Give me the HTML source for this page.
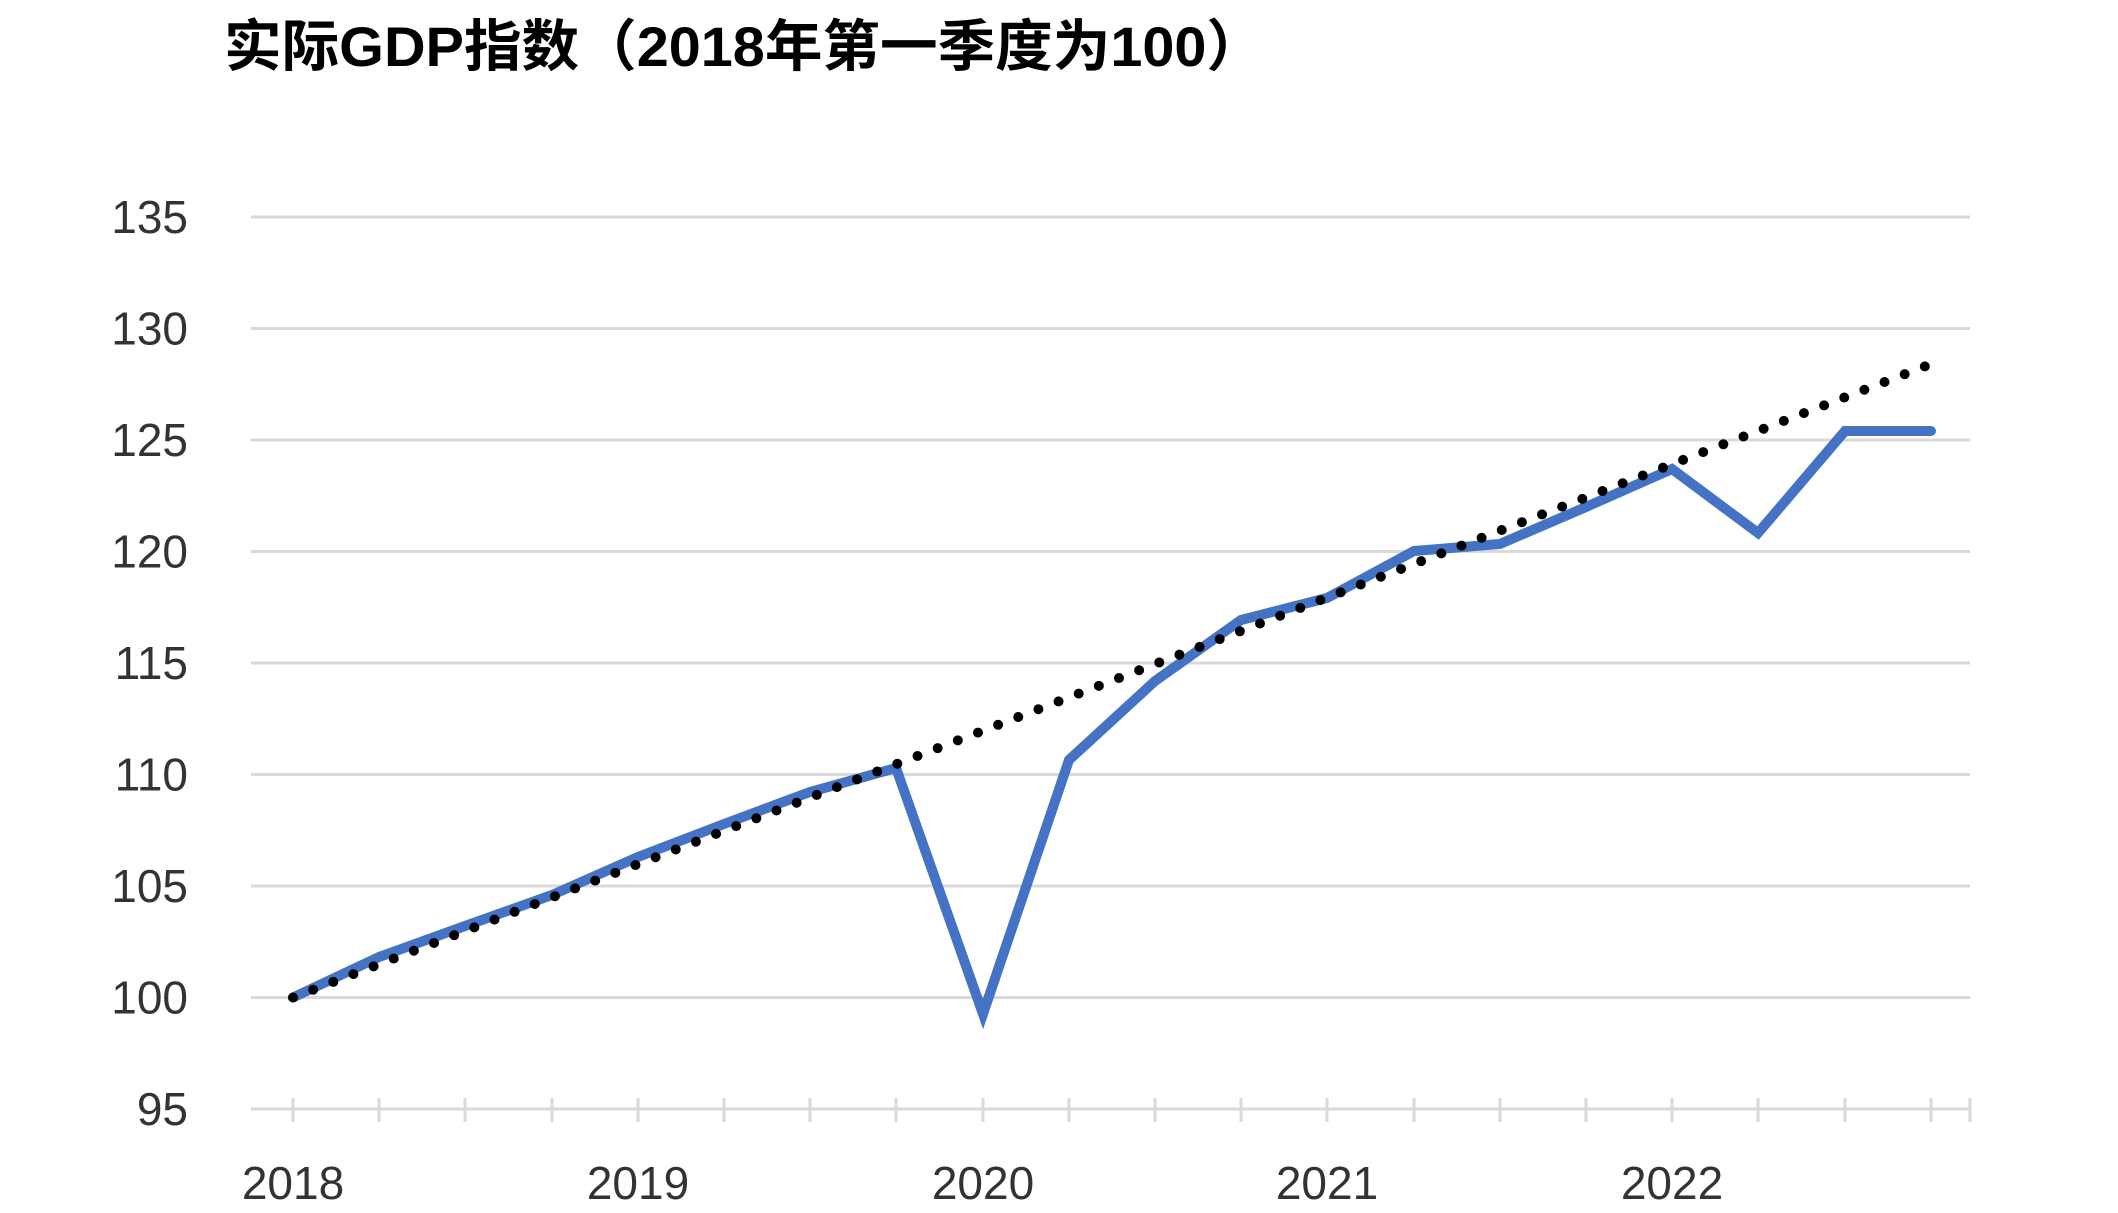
<!DOCTYPE html>
<html><head><meta charset="utf-8"><style>
html,body{margin:0;padding:0;background:#fff;width:2118px;height:1213px;overflow:hidden}
</style></head><body>
<svg width="2118" height="1213" xmlns="http://www.w3.org/2000/svg">
<text x="224" y="66" font-family="'Liberation Sans','Noto Sans CJK SC',sans-serif" font-weight="bold" font-size="56" textLength="1040" lengthAdjust="spacingAndGlyphs" fill="#000">实际GDP指数（2018年第一季度为100）</text>
<g stroke="#d9d9d9" stroke-width="3">
<line x1="251" x2="1970" y1="217" y2="217"/>
<line x1="251" x2="1970" y1="328.5" y2="328.5"/>
<line x1="251" x2="1970" y1="440" y2="440"/>
<line x1="251" x2="1970" y1="551.5" y2="551.5"/>
<line x1="251" x2="1970" y1="663" y2="663"/>
<line x1="251" x2="1970" y1="774.5" y2="774.5"/>
<line x1="251" x2="1970" y1="886" y2="886"/>
<line x1="251" x2="1970" y1="997.5" y2="997.5"/>
<line x1="251" x2="1970" y1="1109" y2="1109"/>
</g>
<g font-family="'Liberation Sans',sans-serif" font-size="46" fill="#333" text-anchor="end">
<text x="188" y="233">135</text>
<text x="188" y="344.5">130</text>
<text x="188" y="456">125</text>
<text x="188" y="567.5">120</text>
<text x="188" y="679">115</text>
<text x="188" y="790.5">110</text>
<text x="188" y="902">105</text>
<text x="188" y="1013.5">100</text>
<text x="188" y="1125">95</text>
</g>
<g font-family="'Liberation Sans',sans-serif" font-size="46" fill="#333" text-anchor="middle">
<text x="293" y="1199">2018</text>
<text x="638" y="1199">2019</text>
<text x="983" y="1199">2020</text>
<text x="1327" y="1199">2021</text>
<text x="1672" y="1199">2022</text>
</g>
<g stroke="#d9d9d9" stroke-width="3">
<line x1="293" x2="293" y1="1098" y2="1122"/><line x1="379" x2="379" y1="1098" y2="1122"/><line x1="465" x2="465" y1="1098" y2="1122"/><line x1="552" x2="552" y1="1098" y2="1122"/><line x1="638" x2="638" y1="1098" y2="1122"/><line x1="724" x2="724" y1="1098" y2="1122"/><line x1="810" x2="810" y1="1098" y2="1122"/><line x1="896" x2="896" y1="1098" y2="1122"/><line x1="983" x2="983" y1="1098" y2="1122"/><line x1="1069" x2="1069" y1="1098" y2="1122"/><line x1="1155" x2="1155" y1="1098" y2="1122"/><line x1="1241" x2="1241" y1="1098" y2="1122"/><line x1="1327" x2="1327" y1="1098" y2="1122"/><line x1="1414" x2="1414" y1="1098" y2="1122"/><line x1="1500" x2="1500" y1="1098" y2="1122"/><line x1="1586" x2="1586" y1="1098" y2="1122"/><line x1="1672" x2="1672" y1="1098" y2="1122"/><line x1="1758" x2="1758" y1="1098" y2="1122"/><line x1="1845" x2="1845" y1="1098" y2="1122"/><line x1="1931" x2="1931" y1="1098" y2="1122"/><line x1="1970" x2="1970" y1="1098" y2="1122"/>
</g>
<polyline fill="none" stroke="#4472c4" stroke-width="10" stroke-linejoin="miter" stroke-linecap="round" points="293,997.5 379,957 465,926 552,895 638,857 724,824 810,792 896,768 983,1014 1069,760 1155,681 1241,620 1327,598 1414,551 1500,544 1586,507 1672,469 1758,533 1845,431 1931,431"/>
<line x1="293" y1="997.5" x2="1931" y2="364" stroke="#000" stroke-width="10" stroke-linecap="round" stroke-dasharray="0 21.6"/>
</svg>
</body></html>
